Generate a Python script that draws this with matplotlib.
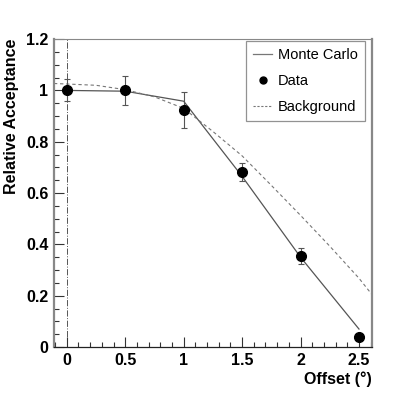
import matplotlib
matplotlib.use("Agg")
import matplotlib.pyplot as plt
from matplotlib.ticker import MultipleLocator
from matplotlib.lines import Line2D

plt.rcParams['font.family'] = ['Liberation Sans', 'DejaVu Sans']

# Data
offsets = [0.0, 0.5, 1.0, 1.5, 2.0, 2.5]
data_vals = [1.0, 1.0, 0.925, 0.683, 0.355, 0.04]
data_errs = [0.043, 0.055, 0.07, 0.035, 0.03, 0.0]
mc_vals = [1.0, 0.997, 0.958, 0.665, 0.35, 0.07]
bg_x = [-0.11, 0.0, 0.25, 0.5, 0.75, 1.0, 1.25, 1.5, 1.75, 2.0, 2.25, 2.5, 2.61]
bg_vals = [1.027, 1.025, 1.02, 1.003, 0.975, 0.93, 0.84, 0.745, 0.63, 0.513, 0.393, 0.268, 0.205]
xtick_vals = [0, 0.5, 1, 1.5, 2, 2.5]
xtick_labels = ['0', '0.5', '1', '1.5', '2', '2.5']
ytick_vals = [0, 0.2, 0.4, 0.6, 0.8, 1.0, 1.2]
ytick_labels = ['0', '0.2', '0.4', '0.6', '0.8', '1', '1.2']

fig = plt.figure(figsize=(4.15, 3.95), dpi=100)
ax = fig.add_axes([0.130, 0.1215, 0.766, 0.7795])

ax.axvline(0.0, color='#555555', lw=0.7, ls='-.', zorder=1)
ax.plot(offsets, mc_vals, color='#555555', lw=0.9, zorder=2)
ax.errorbar(offsets, data_vals, yerr=data_errs, fmt='o', color='black', ms=7,
            ecolor='#555555', elinewidth=0.8, capsize=2.5, capthick=0.8, zorder=3)
ax.plot(bg_x, bg_vals, color='#777777', lw=0.8, ls=(0, (3, 2.5)), zorder=2)

ax.set_xlim(-0.11, 2.61)
ax.set_ylim(0, 1.2)
ax.xaxis.set_minor_locator(MultipleLocator(0.1))
ax.yaxis.set_minor_locator(MultipleLocator(0.05))
ax.set_xticks(xtick_vals)
ax.set_xticklabels(xtick_labels)
ax.set_yticks(ytick_vals)
ax.set_yticklabels(ytick_labels)
ax.tick_params(which='both', direction='in', top=False, right=False,
               labelsize=11.5, color='#333333')
ax.tick_params(which='major', length=7, width=0.8, pad=4)
ax.tick_params(which='minor', length=3.5, width=0.8)
for lab in ax.get_xticklabels() + ax.get_yticklabels():
    lab.set_fontweight('bold')

ax.spines['left'].set_color('#888888')
ax.spines['left'].set_linewidth(1.6)
ax.spines['bottom'].set_color('#222222')
ax.spines['bottom'].set_linewidth(0.9)
ax.spines['top'].set_color('#888888')
ax.spines['right'].set_color('#888888')
ax.spines['right'].set_linewidth(1.6)

ax.set_xlabel('Offset (°)', fontsize=11.5, fontweight='bold', loc='right', labelpad=3)
ax.set_ylabel('Relative Acceptance', fontsize=11.5, fontweight='bold', loc='top', labelpad=5)

handles = [
    Line2D([], [], color='#777777', lw=0.9),
    Line2D([], [], color='black', marker='o', ls='none', ms=5),
    Line2D([], [], color='#777777', lw=0.8, ls=(0, (2, 1.5))),
]
labels = ['Monte Carlo', 'Data', 'Background']
leg = ax.legend(handles, labels, loc='upper right',
                bbox_to_anchor=(365 / 415, 1 - 41 / 395), bbox_transform=fig.transFigure,
                borderaxespad=0, fontsize=10.5,
                frameon=True, fancybox=False, edgecolor='#777777',
                handlelength=1.3, handletextpad=0.4, labelspacing=0.8,
                borderpad=0.5, numpoints=1)
leg.get_frame().set_linewidth(0.9)
leg.get_frame().set_facecolor('white')

fig.savefig('out.png', dpi=100)
